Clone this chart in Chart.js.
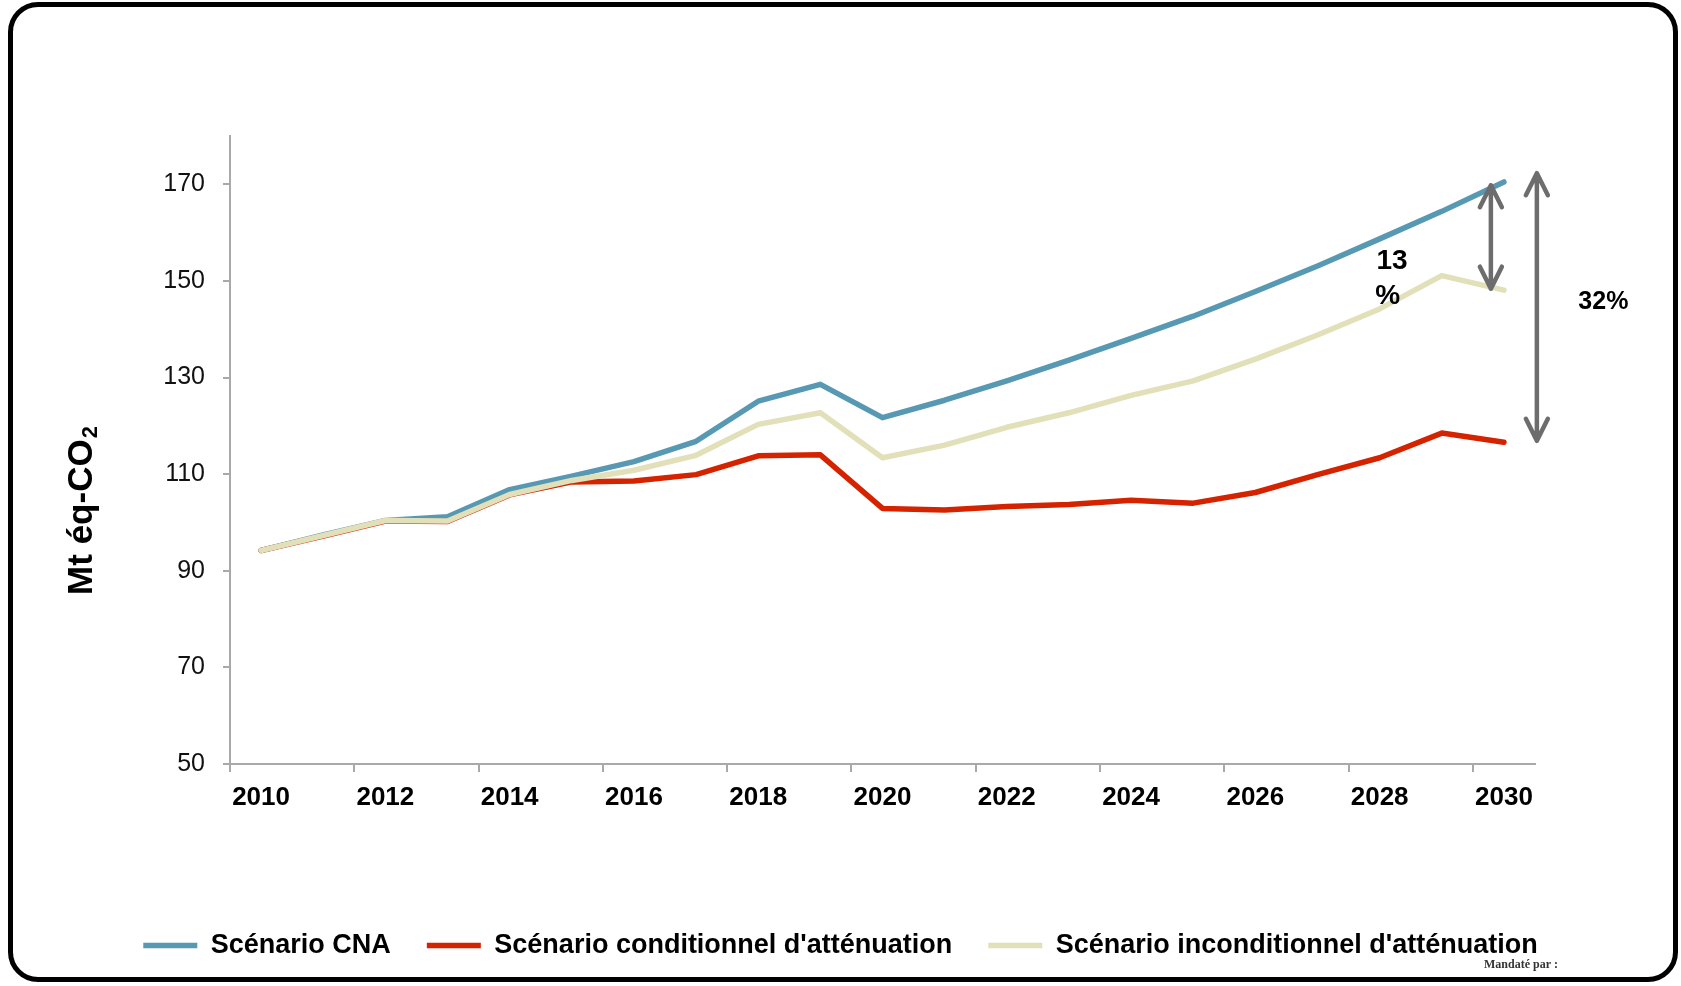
<!DOCTYPE html>
<html lang="fr">
<head>
<meta charset="utf-8">
<title>Scénarios d'émissions</title>
<script src="https://cdn.jsdelivr.net/npm/chart.js@4.4.1/dist/chart.umd.min.js"></script>
<style>
    html, body {
        margin: 0;
        padding: 0;
        background: #ffffff;
    }

    #frame {
        position: absolute;
        left: 8px;
        top: 2px;
        width: 1670px;
        height: 980px;
        box-sizing: border-box;
        border: 5px solid #000000;
        border-radius: 30px;
    }

    #wrap {
        position: absolute;
        left: 0;
        top: 0;
        width: 1681px;
        height: 986px;
    }
</style>
</head>
<body>

<div id="frame"></div>

<div id="wrap">
    <canvas id="emissionsChart"></canvas>
</div>

<script>

// ================= DATA =================

const years = [
    "2010", "2011", "2012", "2013", "2014", "2015", "2016",
    "2017", "2018", "2019", "2020", "2021", "2022", "2023",
    "2024", "2025", "2026", "2027", "2028", "2029", "2030"
];

const cnaValues = [
    94.2, 97.4, 100.4, 101.2, 106.8, 109.6, 112.6,
    116.8, 125.1, 128.6, 121.7, 125.3, 129.3, 133.6,
    138.1, 142.7, 147.8, 153.1, 158.7, 164.4, 170.5
];

const conditionalValues = [
    94.2, 97.2, 100.3, 100.2, 105.7, 108.4, 108.6,
    109.9, 113.8, 114.0, 102.9, 102.6, 103.3, 103.7,
    104.6, 104.0, 106.2, 109.9, 113.4, 118.5, 116.6
];

const unconditionalValues = [
    94.2, 97.3, 100.4, 100.3, 105.8, 108.7, 110.8,
    113.9, 120.3, 122.7, 113.4, 116.0, 119.7, 122.7,
    126.3, 129.3, 133.8, 138.8, 144.2, 151.1, 148.1
];

const yTickValues = [50, 70, 90, 110, 130, 150, 170];

const seriesLabels = [
    "Scénario CNA",
    "Scénario conditionnel d'atténuation",
    "Scénario inconditionnel d'atténuation"
];

const seriesColors = ["#5799b3", "#d52300", "#e2e0b9"];

const axisGrey = "#a9a9a9";
const arrowGrey = "#6d6d6d";


// ================= ANNOTATIONS =================

// arrows and labels between the 2030 values, placed through the scales
const annotationPlugin = {

    id: "gapArrows",

    afterDatasetsDraw(chart) {

        const ctx = chart.ctx;
        const x = chart.scales.x;
        const y = chart.scales.y;

        function arrow(xVal, topVal, bottomVal) {

            const px = x.getPixelForValue(xVal);
            const top = y.getPixelForValue(topVal);
            const bottom = y.getPixelForValue(bottomVal);

            ctx.beginPath();
            ctx.moveTo(px, top);
            ctx.lineTo(px, bottom);

            ctx.moveTo(px - 11, top + 22);
            ctx.lineTo(px, top);
            ctx.lineTo(px + 11, top + 22);

            ctx.moveTo(px - 11, bottom - 22);
            ctx.lineTo(px, bottom);
            ctx.lineTo(px + 11, bottom - 22);

            ctx.stroke();

        }

        ctx.save();

        ctx.strokeStyle = arrowGrey;
        ctx.lineWidth = 4.5;
        ctx.lineCap = "round";
        ctx.lineJoin = "round";

        arrow(19.79, 169.8, 148.4);
        arrow(20.53, 172.3, 116.9);

        ctx.fillStyle = "#000000";
        ctx.textAlign = "center";
        ctx.textBaseline = "middle";

        ctx.font = "bold 28px 'Liberation Sans', Arial, sans-serif";
        ctx.fillText("13", x.getPixelForValue(18.2), y.getPixelForValue(154.0));
        ctx.fillText("%", x.getPixelForValue(18.13), y.getPixelForValue(146.8));

        ctx.font = "bold 25px 'Liberation Sans', Arial, sans-serif";
        ctx.fillText("32%", x.getPixelForValue(21.6), y.getPixelForValue(145.7));

        ctx.restore();

    }

};


// ================= AXIS TITLE + FOOTNOTE =================

const textPlugin = {

    id: "extraText",

    afterDraw(chart) {

        const ctx = chart.ctx;
        const area = chart.chartArea;

        // y axis title with subscript
        ctx.save();

        ctx.translate(area.left - 148, area.top + 375);
        ctx.rotate(-Math.PI / 2);

        ctx.fillStyle = "#000000";
        ctx.textBaseline = "middle";

        const mainFont = "bold 35px 'Liberation Sans', Arial, sans-serif";
        const subFont = "bold 22px 'Liberation Sans', Arial, sans-serif";

        ctx.font = mainFont;
        const mainText = "Mt éq-CO";
        const mainWidth = ctx.measureText(mainText).width;

        ctx.font = subFont;
        const subWidth = ctx.measureText("2").width;

        const start = -(mainWidth + subWidth) / 2;

        ctx.font = mainFont;
        ctx.textAlign = "left";
        ctx.fillText(mainText, start, 0);

        ctx.font = subFont;
        ctx.fillText("2", start + mainWidth + 1, 9);

        ctx.restore();

        // footnote
        ctx.save();
        ctx.fillStyle = "#333333";
        ctx.font = "bold 12px 'Liberation Serif', 'DejaVu Serif', serif";
        ctx.textAlign = "right";
        ctx.textBaseline = "middle";
        ctx.fillText("Mandaté par :", 1558, 965);
        ctx.restore();

    }

};


// ================= LINE CHART =================

const emissionsChart = document.getElementById("emissionsChart");

if (emissionsChart) {

    new Chart(emissionsChart, {

        type: "line",

        data: {

            labels: years,

            datasets: [
                {
                    label: seriesLabels[0],
                    data: cnaValues,
                    borderColor: seriesColors[0],
                    backgroundColor: seriesColors[0],
                    borderWidth: 5.5,
                    order: 2
                },
                {
                    label: seriesLabels[1],
                    data: conditionalValues,
                    borderColor: seriesColors[1],
                    backgroundColor: seriesColors[1],
                    borderWidth: 5.5,
                    order: 1
                },
                {
                    label: seriesLabels[2],
                    data: unconditionalValues,
                    borderColor: seriesColors[2],
                    backgroundColor: seriesColors[2],
                    borderWidth: 5.5,
                    order: 0
                }
            ]

        },

        options: {

            responsive: true,
            maintainAspectRatio: false,
            animation: false,

            layout: {
                padding: {
                    top: 136,
                    right: 0,
                    bottom: 17,
                    left: 0
                }
            },

            elements: {
                line: {
                    tension: 0,
                    borderCapStyle: "round",
                    borderJoinStyle: "round"
                },
                point: {
                    radius: 0,
                    hoverRadius: 0
                }
            },

            plugins: {

                legend: {
                    position: "bottom",
                    labels: {
                        usePointStyle: true,
                        pointStyle: "line",
                        pointStyleWidth: 54,
                        padding: 36,
                        color: "#000000",
                        font: {
                            family: "'Liberation Sans', Arial, sans-serif",
                            size: 27,
                            weight: "bold"
                        },
                        sort: (a, b) => a.datasetIndex - b.datasetIndex
                    }
                },

                tooltip: {
                    enabled: false
                }

            },

            scales: {

                x: {
                    offset: true,
                    afterFit: (scale) => {
                        scale.height = 132;
                    },
                    border: {
                        color: axisGrey,
                        width: 2
                    },
                    grid: {
                        offset: true,
                        drawOnChartArea: false,
                        tickLength: 8,
                        lineWidth: 2,
                        color: (c) => (c.index !== undefined && c.index % 2 === 0) ? axisGrey : "rgba(0,0,0,0)"
                    },
                    ticks: {
                        autoSkip: false,
                        maxRotation: 0,
                        padding: 10,
                        color: "#000000",
                        font: {
                            family: "'Liberation Sans', Arial, sans-serif",
                            size: 26,
                            weight: "bold"
                        },
                        callback: (value, index) => index % 2 === 0 ? years[index] : ""
                    }
                },

                y: {
                    min: 50,
                    max: 180,
                    afterFit: (scale) => {
                        scale.width = 230;
                    },
                    afterBuildTicks: (scale) => {
                        scale.ticks = yTickValues.map((v) => ({ value: v }));
                    },
                    border: {
                        color: axisGrey,
                        width: 2
                    },
                    grid: {
                        drawOnChartArea: false,
                        tickLength: 7,
                        lineWidth: 2,
                        color: axisGrey
                    },
                    ticks: {
                        padding: 18,
                        color: "#111111",
                        font: {
                            family: "'Liberation Sans', Arial, sans-serif",
                            size: 25
                        }
                    }
                },

                // empty right-hand margin for the arrows and the 32% label
                yRight: {
                    position: "right",
                    afterFit: (scale) => {
                        scale.width = 146;
                    },
                    border: {
                        display: false
                    },
                    grid: {
                        display: false
                    },
                    ticks: {
                        display: false
                    }
                }

            }

        },

        plugins: [annotationPlugin, textPlugin]

    });

}

</script>

</body>
</html>
